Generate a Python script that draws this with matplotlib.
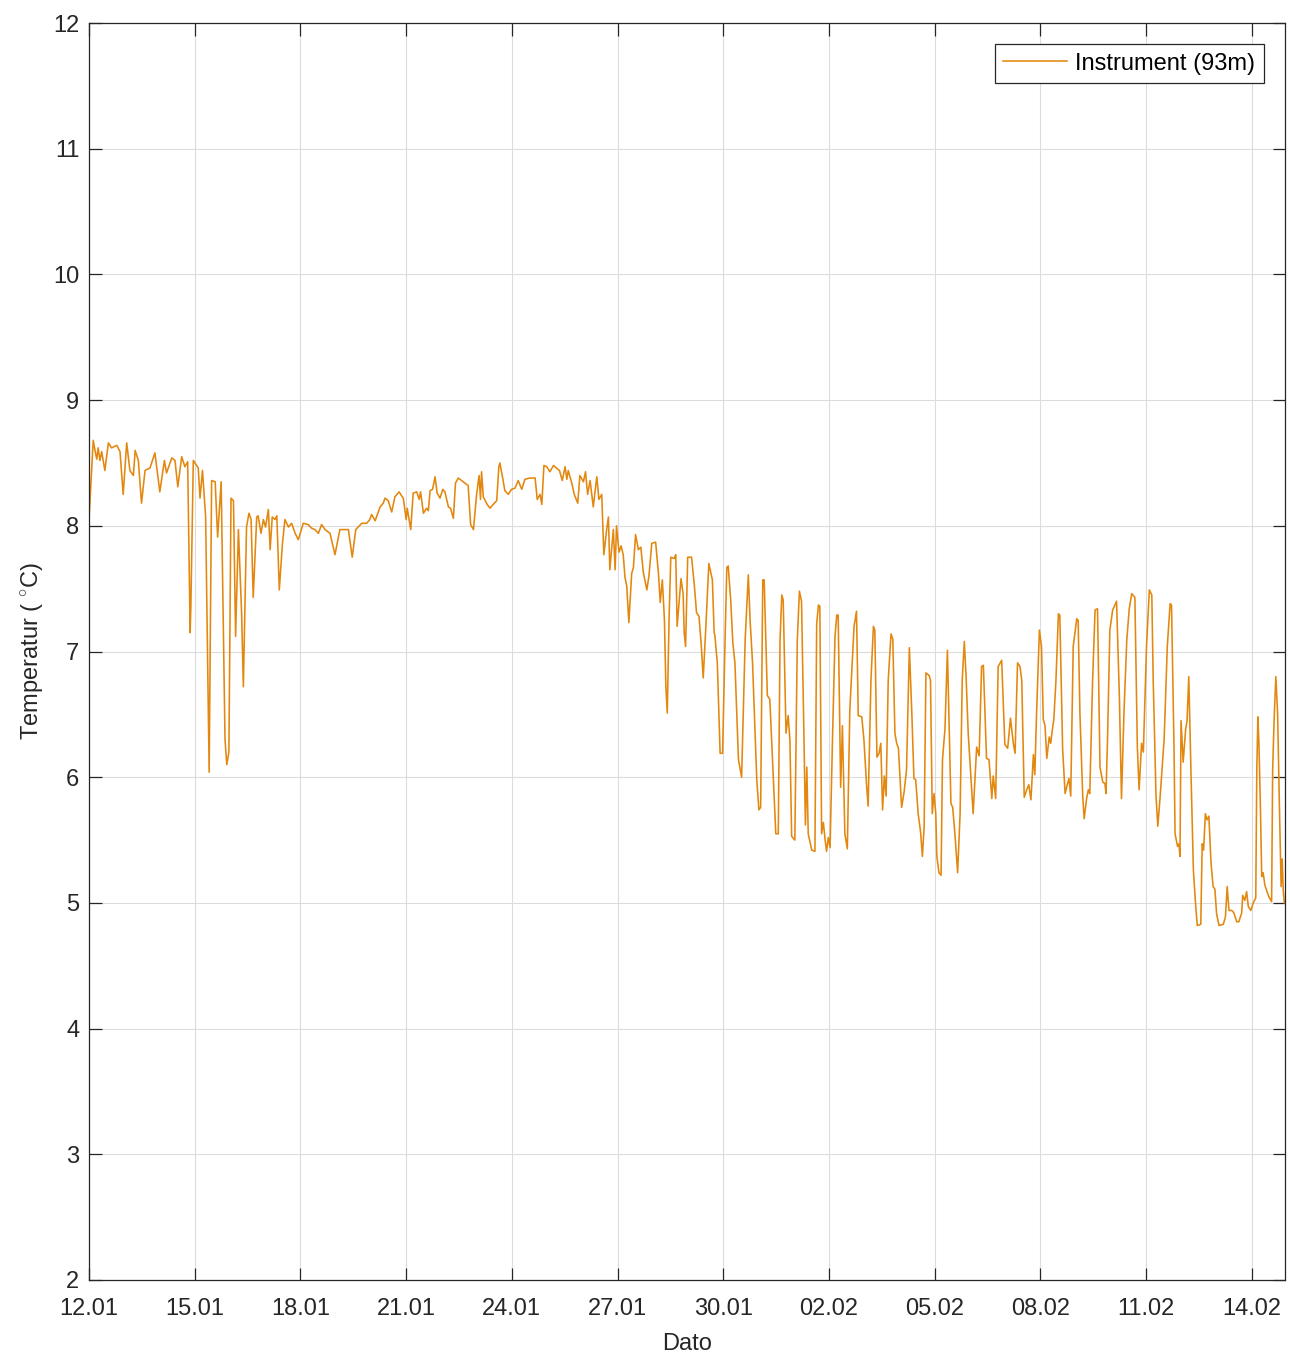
import numpy as np
import matplotlib
matplotlib.use("Agg")
import matplotlib.pyplot as plt
import matplotlib.dates as mdates

plt.rcParams["font.family"] = ["Liberation Sans", "DejaVu Sans"]
plt.rcParams["mathtext.fontset"] = "custom"
plt.rcParams["mathtext.rm"] = "Liberation Sans"
plt.rcParams["mathtext.it"] = "Liberation Sans:italic"

# Measurement series: elapsed days since 12.01 00:00 and water temperature (deg C)
day_offset = [
    0.00, 0.12, 0.17, 0.22, 0.26, 0.31, 0.36, 0.45, 0.55, 0.64, 0.79, 0.88, 0.97, 1.07, 1.16, 1.26,
    1.31, 1.40, 1.49, 1.59, 1.73, 1.87, 2.01, 2.14, 2.20, 2.35, 2.44, 2.52, 2.63, 2.72, 2.80, 2.87,
    2.89, 2.96, 3.10, 3.15, 3.22, 3.31, 3.41, 3.48, 3.58, 3.65, 3.75, 3.86, 3.91, 3.97, 4.03, 4.10,
    4.16, 4.24, 4.33, 4.38, 4.47, 4.54,
    4.60, 4.66, 4.76, 4.80, 4.88, 4.95, 5.01, 5.09, 5.14, 5.20, 5.28, 5.33, 5.40, 5.49, 5.56, 5.66,
    5.75, 5.85, 5.94, 6.08, 6.22, 6.32, 6.41, 6.51, 6.60, 6.70, 6.84, 6.98, 7.12, 7.26, 7.36, 7.47,
    7.57, 7.74, 7.88, 7.97, 8.02, 8.12, 8.26, 8.35, 8.40, 8.49, 8.59, 8.68, 8.80, 8.89,
    8.92, 9.00, 9.03, 9.13, 9.20, 9.30, 9.37, 9.41, 9.49, 9.58, 9.63, 9.68, 9.75, 9.82, 9.88, 9.96,
    10.04, 10.10, 10.20, 10.26, 10.34, 10.40, 10.48, 10.62, 10.76, 10.83, 10.91, 11.00, 11.07, 11.11,
    11.14, 11.19, 11.30, 11.38, 11.47, 11.57, 11.63, 11.66, 11.74, 11.80, 11.90, 11.99, 12.09, 12.18,
    12.28, 12.37, 12.51, 12.66, 12.72, 12.80, 12.85, 12.91, 12.99, 13.08, 13.18, 13.35,
    13.43, 13.51, 13.56, 13.60, 13.70, 13.77, 13.87, 13.93, 14.03, 14.09, 14.15, 14.22, 14.31, 14.41,
    14.47, 14.55, 14.61, 14.69, 14.74, 14.78, 14.88, 14.93, 14.97, 15.04, 15.10, 15.16, 15.21, 15.26,
    15.32, 15.40, 15.45, 15.51, 15.59, 15.66, 15.73, 15.83, 15.89, 15.97, 16.08, 16.16, 16.21, 16.27,
    16.33, 16.37, 16.41, 16.46, 16.51, 16.61, 16.65, 16.69, 16.74, 16.80, 16.86, 16.89, 16.93, 16.99,
    17.10, 17.18, 17.24, 17.31, 17.37, 17.43, 17.50, 17.59, 17.69, 17.74,
    17.76, 17.83, 17.91, 17.98, 18.05, 18.10, 18.14, 18.21, 18.27, 18.33, 18.43, 18.52, 18.62, 18.71,
    18.76, 18.83, 18.95, 19.01, 19.06, 19.12, 19.16, 19.25, 19.32, 19.42, 19.49, 19.56, 19.61, 19.66,
    19.70, 19.78, 19.84, 19.89, 19.94, 20.03, 20.10, 20.16, 20.22, 20.29, 20.33, 20.37, 20.41, 20.51,
    20.60, 20.65, 20.70, 20.74, 20.79, 20.84, 20.89, 20.93, 20.98, 21.03, 21.10, 21.17, 21.22, 21.26,
    21.33, 21.38, 21.45, 21.52, 21.59, 21.71, 21.78, 21.83, 21.93, 21.99, 22.07,
    22.11, 22.19, 22.26, 22.30, 22.36, 22.42, 22.47, 22.52, 22.57, 22.62, 22.68, 22.76, 22.81, 22.87,
    22.92, 22.97, 23.06, 23.13, 23.20, 23.28, 23.35, 23.41, 23.46, 23.53, 23.60, 23.65, 23.70, 23.75,
    23.84, 23.88, 23.93, 23.98, 24.03, 24.06, 24.12, 24.18, 24.22, 24.29, 24.36, 24.40, 24.46, 24.51,
    24.57, 24.65, 24.72, 24.78, 24.84, 24.89, 24.95, 25.03, 25.09, 25.19, 25.26, 25.33, 25.38, 25.47,
    25.54, 25.62, 25.66, 25.73, 25.80, 25.90, 25.99, 26.07, 26.15, 26.23, 26.28, 26.35, 26.42, 26.47,
    26.54,
    26.61, 26.67, 26.73, 26.80, 26.84, 26.89, 26.97, 27.03, 27.08, 27.13, 27.18, 27.25, 27.29, 27.34,
    27.38, 27.44, 27.51, 27.55, 27.63, 27.70, 27.76, 27.81, 27.86, 27.93, 28.03, 28.07, 28.12, 28.20,
    28.24, 28.31, 28.36, 28.40, 28.48, 28.55, 28.62, 28.69, 28.77, 28.83, 28.86, 28.90, 28.97, 29.05,
    29.16, 29.24, 29.30, 29.37, 29.45, 29.52, 29.59, 29.68, 29.75, 29.80, 29.87, 29.92, 30.01, 30.09,
    30.16, 30.20, 30.28, 30.33, 30.39, 30.51, 30.60, 30.68, 30.72, 30.79,
    30.82, 30.89, 30.93, 30.96, 30.99, 31.05, 31.12, 31.16, 31.21, 31.27, 31.34, 31.40, 31.45, 31.55,
    31.59, 31.63, 31.68, 31.73, 31.78, 31.84, 31.90, 31.95, 32.00, 32.07, 32.19, 32.25, 32.30, 32.35,
    32.43, 32.49, 32.57, 32.63, 32.71, 32.74, 32.80, 32.85, 32.90, 32.97, 33.04, 33.11, 33.14, 33.17,
    33.20, 33.24, 33.28, 33.32, 33.37, 33.42, 33.48, 33.56, 33.59, 33.63, 33.68, 33.73, 33.78, 33.83,
    33.86, 33.89, 33.92,
]

temperature = [
    8.05, 8.68, 8.60, 8.53, 8.62, 8.52, 8.59, 8.44, 8.66, 8.62, 8.64, 8.59, 8.25, 8.66, 8.44, 8.40,
    8.60, 8.52, 8.18, 8.44, 8.46, 8.58, 8.27, 8.52, 8.42, 8.54, 8.52, 8.31, 8.55, 8.47, 8.51, 7.15,
    7.35, 8.52, 8.46, 8.22, 8.44, 8.07, 6.04, 8.36, 8.35, 7.91, 8.35, 6.30, 6.10, 6.20, 8.22, 8.20,
    7.12, 7.97, 7.31, 6.72, 7.99, 8.10,
    8.05, 7.43, 8.07, 8.08, 7.94, 8.05, 7.99, 8.13, 7.81, 8.07, 8.05, 8.08, 7.49, 7.86, 8.05, 7.99,
    8.02, 7.94, 7.89, 8.02, 8.01, 7.98, 7.97, 7.94, 8.01, 7.97, 7.94, 7.77, 7.97, 7.97, 7.97, 7.75,
    7.97, 8.02, 8.02, 8.05, 8.09, 8.04, 8.15, 8.18, 8.22, 8.20, 8.11, 8.23, 8.27, 8.23,
    8.22, 8.05, 8.14, 7.97, 8.26, 8.27, 8.21, 8.27, 8.10, 8.14, 8.12, 8.28, 8.29, 8.39, 8.26, 8.22,
    8.29, 8.27, 8.15, 8.14, 8.06, 8.34, 8.38, 8.35, 8.32, 8.01, 7.97, 8.25, 8.40, 8.21,
    8.43, 8.23, 8.17, 8.14, 8.17, 8.20, 8.47, 8.50, 8.38, 8.28, 8.25, 8.29, 8.30, 8.36,
    8.29, 8.37, 8.38, 8.38, 8.21, 8.25, 8.17, 8.48, 8.47, 8.43, 8.48, 8.44,
    8.36, 8.47, 8.37, 8.44, 8.34, 8.25, 8.18, 8.40, 8.35, 8.43, 8.25, 8.36, 8.15, 8.39,
    8.21, 8.25, 7.77, 7.97, 8.07, 7.65, 7.97, 7.65, 8.00, 7.79, 7.84, 7.77, 7.59, 7.52,
    7.23, 7.62, 7.67, 7.93, 7.81, 7.83, 7.63, 7.49, 7.60, 7.86, 7.87, 7.62, 7.39, 7.57,
    7.25, 6.72, 6.51, 7.25, 7.75, 7.74, 7.77, 7.20, 7.37, 7.58, 7.46, 7.15, 7.04, 7.75,
    7.75, 7.52, 7.31, 7.28, 7.07, 6.79, 7.17, 7.70, 7.57, 7.15,
    7.13, 6.91, 6.19, 6.19, 7.09, 7.67, 7.68, 7.41, 7.07, 6.91, 6.14, 6.00, 7.09, 7.61,
    7.25, 6.91, 5.98, 5.74, 5.76, 7.57, 7.57, 6.65, 6.62, 5.98, 5.55, 5.55, 7.09, 7.45,
    7.41, 6.35, 6.49, 6.30, 5.53, 5.50, 7.09, 7.48, 7.40, 6.30, 5.62, 6.08, 5.55, 5.42,
    5.41, 7.22, 7.37, 7.36, 5.55, 5.64, 5.50, 5.41, 5.52, 5.44, 6.32, 7.12, 7.29, 7.29,
    5.92, 6.41, 5.55, 5.43, 6.53, 7.20, 7.32, 6.49, 6.48, 6.30, 5.92,
    5.77, 6.77, 7.20, 7.17, 6.16, 6.19, 6.27, 5.74, 6.01, 5.85, 6.77, 7.14, 7.10, 6.35,
    6.27, 6.23, 5.76, 5.88, 6.06, 7.03, 6.51, 5.99, 5.98, 5.71, 5.56, 5.37, 5.61, 6.83,
    6.81, 6.77, 5.71, 5.87, 5.71, 5.37, 5.24, 5.22, 6.14, 6.38, 7.01, 6.51, 5.79, 5.76,
    5.56, 5.24, 5.71, 6.77, 7.08, 6.80, 6.35, 5.98, 5.71, 6.24, 6.17, 6.88, 6.89, 6.15,
    6.14, 5.83, 6.01, 5.83, 6.88, 6.93, 6.26, 6.23, 6.47, 6.27, 6.19, 6.91, 6.88, 6.77,
    5.84,
    5.90, 5.94, 5.82, 6.18, 6.02, 6.51, 7.17, 7.04, 6.46, 6.41, 6.15, 6.32, 6.27, 6.38,
    6.46, 6.77, 7.30, 7.29, 6.22, 5.87, 5.94, 5.99, 5.85, 7.04, 7.26, 7.25, 6.51, 5.85,
    5.67, 5.83, 5.90, 5.87, 6.77, 7.33, 7.34, 6.08, 5.96, 5.95, 5.87, 6.26, 7.17, 7.33,
    7.40, 6.64, 5.83, 6.51, 7.09, 7.34, 7.46, 7.43, 6.24, 5.90, 6.27, 6.20, 7.04, 7.49,
    7.45, 6.77, 5.85, 5.61, 5.82, 6.30, 7.04, 7.38, 7.37, 6.24,
    5.55, 5.45, 5.47, 5.37, 6.45, 6.12, 6.38, 6.45, 6.80, 6.06, 5.26, 5.00, 4.82, 4.83,
    5.47, 5.42, 5.71, 5.66, 5.69, 5.32, 5.13, 5.11, 4.91, 4.82, 4.83, 4.89, 5.13, 4.94,
    4.94, 4.92, 4.85, 4.85, 4.92, 5.06, 5.02, 5.09, 4.97, 4.94, 5.00, 5.04, 6.06, 6.48,
    6.27, 5.79, 5.21, 5.24, 5.14, 5.10, 5.05, 5.01, 6.06, 6.45, 6.80, 6.51, 5.79, 5.13,
    5.35, 5.10, 5.00,
]

series_label = "Instrument (93m)"
start_date = np.datetime64("2021-01-12T00:00")
y_ticks = [2, 3, 4, 5, 6, 7, 8, 9, 10, 11, 12]
x_tick_step_days = 3
n_x_ticks = 12
x_span_days = 33.94

times = start_date + (np.array(day_offset) * 24 * 3600).astype("timedelta64[s]")

fig = plt.figure(figsize=(12.9, 13.57), dpi=100)
ax = fig.add_axes([89 / 1290, 77 / 1357, (1285 - 89) / 1290, (1280 - 23) / 1357])

ax.plot(times, temperature, color="#E3870E", lw=1.15, label=series_label,
        solid_joinstyle="round")

tick_dates = [start_date + np.timedelta64(int(i * x_tick_step_days), "D") for i in range(n_x_ticks)]
ax.set_xticks(tick_dates)
ax.xaxis.set_major_formatter(mdates.DateFormatter("%d.%m"))
ax.set_xlim(start_date, start_date + np.timedelta64(int(x_span_days * 24 * 3600), "s"))
ax.set_ylim(2, 12)
ax.set_yticks(y_ticks)

edge = "#262626"
ax.grid(True, color="#dcdcdc", lw=0.8)
ax.set_axisbelow(True)
for s in ax.spines.values():
    s.set_color(edge)
    s.set_linewidth(0.9)
ax.tick_params(direction="in", length=9, width=0.9, color=edge, labelcolor=edge,
               labelsize=17, top=True, right=True)
ax.tick_params(axis="x", pad=13)
ax.tick_params(axis="y", pad=7)

ax.set_xlabel("Dato", fontsize=17, color=edge, labelpad=9)
ax.set_ylabel(r"Temperatur ( $^{\circ}$C)", fontsize=17, color=edge, labelpad=6)

leg = ax.legend(loc="upper right", fontsize=17, frameon=True, fancybox=False,
                edgecolor="#262626", framealpha=1, handlelength=2.7, borderpad=0.35,
                borderaxespad=0.9, handletextpad=0.35)
leg.get_frame().set_linewidth(0.9)

fig.savefig("out.png", dpi=100)
